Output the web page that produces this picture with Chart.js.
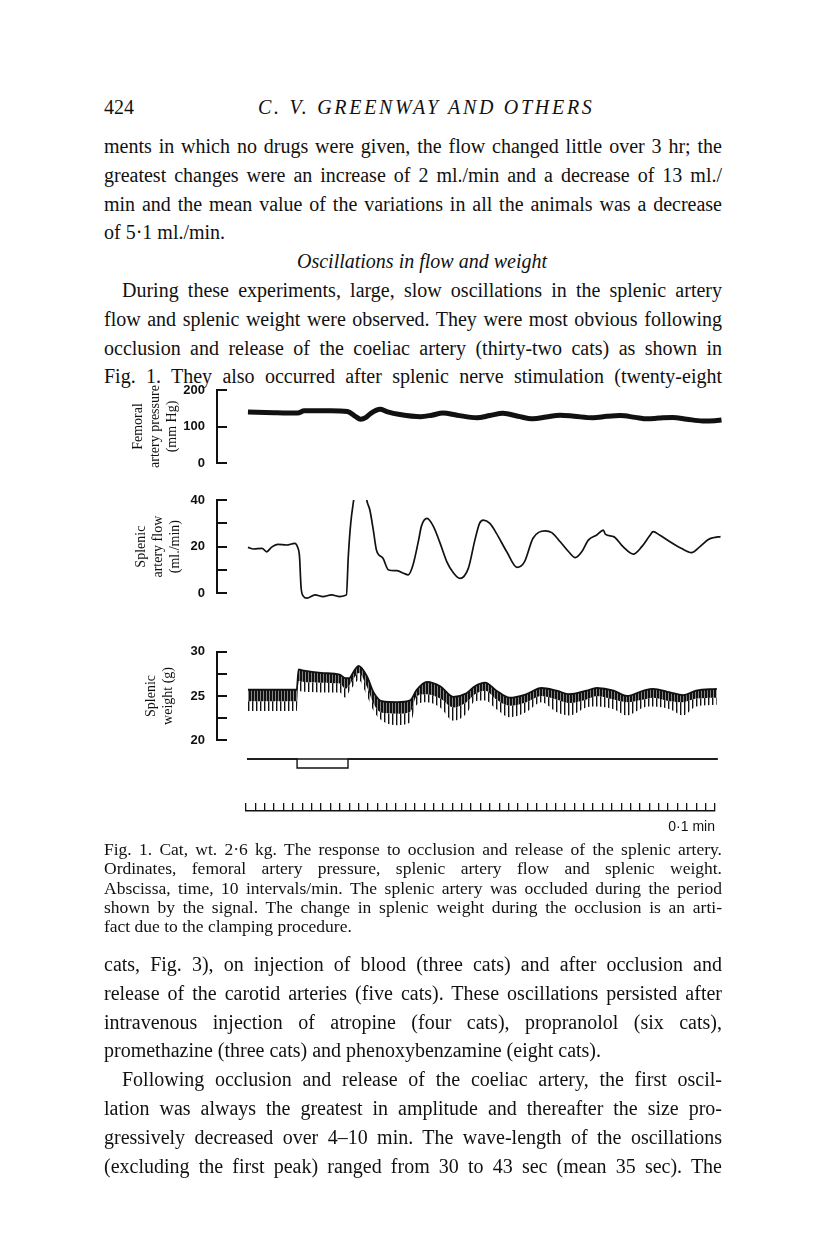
<!DOCTYPE html>
<html>
<head>
<meta charset="utf-8">
<script src="https://cdn.jsdelivr.net/npm/chart.js@4.4.1/dist/chart.umd.min.js"></script>
<style>
  html, body { margin: 0; padding: 0; background: #fff; }
  #page { position: relative; width: 816px; height: 1249px; overflow: hidden;
          font-family: 'Liberation Serif', serif; color: #111; }
  .ln { position: absolute; left: 104px; width: 618px; font-size: 20px; line-height: 28px; height: 28px;
        text-align: justify; text-align-last: justify; }
  .ind { left: 122px; width: 600px; }
  .end { text-align-last: left; }
  .cap { font-size: 17.5px; line-height: 19px; height: 19px; }
  canvas { position: absolute; }
</style>
</head>
<body>
<div id="page">
  <div class="ln end" style="top:93px">424</div>
  <div class="ln end" style="top:93px;left:258px;width:400px;font-style:italic;letter-spacing:2.7px">C. V. GREENWAY AND OTHERS</div>

  <div class="ln" style="top:132px">ments in which no drugs were given, the flow changed little over 3 hr; the</div>
  <div class="ln" style="top:160.8px">greatest changes were an increase of 2 ml./min and a decrease of 13 ml./</div>
  <div class="ln" style="top:189.6px">min and the mean value of the variations in all the animals was a decrease</div>
  <div class="ln end" style="top:218.4px">of 5·1 ml./min.</div>
  <div class="ln" style="top:247.2px;text-align:center;text-align-last:center;font-style:italic;padding-left:18px;width:600px">Oscillations in flow and weight</div>
  <div class="ln ind" style="top:276px">During these experiments, large, slow oscillations in the splenic artery</div>
  <div class="ln" style="top:304.8px">flow and splenic weight were observed. They were most obvious following</div>
  <div class="ln" style="top:333.6px">occlusion and release of the coeliac artery (thirty-two cats) as shown in</div>
  <div class="ln" style="top:362.4px">Fig. 1. They also occurred after splenic nerve stimulation (twenty-eight</div>

  <canvas id="pressureChart" width="620" height="170" style="left:120px;top:330px"></canvas>
  <canvas id="flowChart" width="620" height="180" style="left:120px;top:460px"></canvas>
  <canvas id="weightChart" width="620" height="160" style="left:120px;top:610px"></canvas>
  <canvas id="signalChart" width="620" height="35" style="left:120px;top:744px"></canvas>
  <canvas id="timeChart" width="620" height="60" style="left:120px;top:780px"></canvas>

  <div class="ln cap" style="top:840px">Fig. 1. Cat, wt. 2·6 kg. The response to occlusion and release of the splenic artery.</div>
  <div class="ln cap" style="top:859.3px">Ordinates, femoral artery pressure, splenic artery flow and splenic weight.</div>
  <div class="ln cap" style="top:878.6px">Abscissa, time, 10 intervals/min. The splenic artery was occluded during the period</div>
  <div class="ln cap" style="top:897.9px">shown by the signal. The change in splenic weight during the occlusion is an arti-</div>
  <div class="ln cap end" style="top:917.2px">fact due to the clamping procedure.</div>

  <div class="ln" style="top:950px">cats, Fig. 3), on injection of blood (three cats) and after occlusion and</div>
  <div class="ln" style="top:978.8px">release of the carotid arteries (five cats). These oscillations persisted after</div>
  <div class="ln" style="top:1007.6px">intravenous injection of atropine (four cats), propranolol (six cats),</div>
  <div class="ln end" style="top:1036.4px">promethazine (three cats) and phenoxybenzamine (eight cats).</div>
  <div class="ln ind" style="top:1065.2px">Following occlusion and release of the coeliac artery, the first oscil-</div>
  <div class="ln" style="top:1094px">lation was always the greatest in amplitude and thereafter the size pro-</div>
  <div class="ln" style="top:1122.8px">gressively decreased over 4–10 min. The wave-length of the oscillations</div>
  <div class="ln" style="top:1151.6px">(excluding the first peak) ranged from 30 to 43 sec (mean 35 sec). The</div>
</div>

<script>
// time axis: minutes from the first time mark
const pressureMin = [0.02, 0.3, 0.55, 0.62, 0.9, 1.08, 1.17, 1.22, 1.28, 1.33, 1.43, 1.5, 1.64, 1.86, 1.98, 2.1,
  2.25, 2.46, 2.6, 2.74, 2.9, 3.06, 3.2, 3.35, 3.5, 3.7, 3.85, 3.99, 4.15, 4.28, 4.4, 4.55, 4.7, 4.87, 5.0, 5.07];
const pressureMmHg = [140, 138, 137, 143, 143, 141, 127, 120, 125, 136, 147, 141, 133, 127, 131, 137,
  131, 124, 130, 136, 128, 121, 126, 131, 128, 124, 128, 130, 125, 121, 123, 125, 120, 115, 116, 118];

const flowMin = [0.02, 0.08, 0.17, 0.22, 0.27, 0.34, 0.43, 0.52, 0.55, 0.57,
  0.586, 0.61, 0.65, 0.735, 0.82, 0.91, 1.0, 1.07, 1.09, 1.116,
  1.15, 1.22, 1.287, 1.32, 1.357, 1.39, 1.46, 1.52, 1.61, 1.68,
  1.73, 1.78, 1.84, 1.87, 1.93, 2.0, 2.07, 2.14, 2.21, 2.28,
  2.37, 2.44, 2.49, 2.53, 2.6, 2.67, 2.78, 2.89, 2.97, 3.06,
  3.19, 3.26, 3.35, 3.44, 3.51, 3.58, 3.65, 3.74, 3.81, 3.83,
  3.92, 4.02, 4.13, 4.22, 4.31, 4.34, 4.41, 4.52, 4.64, 4.75,
  4.84, 4.93, 4.98, 5.06];
const flowMlMin = [19.7, 19.0, 19.3, 17.8, 19.7, 21.0, 20.7, 21.4, 19.7, 15.7,
  2.8, -1.2, -2.1, -0.7, -1.4, -0.7, -1.4, -0.7, 15.7, 30,
  40.7, 60, 40, 35.7, 27.1, 18.6, 15, 10, 9.7, 8.6,
  7.9, 12.1, 22.8, 28.8, 32.1, 28.5, 21.4, 13.6, 8.8, 6.4,
  10.7, 22.8, 30, 31.4, 30, 25.7, 17.8, 11.1, 13.6, 23.6,
  26.8, 26, 22.1, 17.8, 15.3, 17.8, 22.8, 25, 27.1, 25.4,
  24.3, 20, 16.8, 20, 25, 26.4, 25, 22.1, 19.3, 17.4,
  20, 23.1, 23.8, 24.3];

const weightMin = [0.02, 0.54, 0.56, 0.6, 0.8, 1.0, 1.06, 1.1, 1.15, 1.2, 1.29, 1.36, 1.45, 1.61, 1.75, 1.82,
  1.93, 2.07, 2.21, 2.35, 2.44, 2.55, 2.67, 2.81, 2.99, 3.15, 3.31, 3.45, 3.63, 3.74, 3.92, 4.06,
  4.24, 4.34, 4.52, 4.66, 4.8, 5.02];
const weightTop = [25.7, 25.7, 28.0, 27.9, 27.6, 27.4, 27.0, 27.0, 27.8, 28.4, 27.2, 25.4, 24.4, 24.3, 24.5, 25.7,
  26.6, 26.1, 24.9, 25.3, 26.1, 26.5, 25.6, 24.8, 25.2, 25.9, 25.6, 25.2, 25.6, 25.9, 25.6, 25.0,
  25.6, 25.8, 25.4, 25.1, 25.6, 25.8];
const weightCore = [24.4, 24.4, 26.7, 26.6, 26.5, 26.4, 25.8, 26.2, 27.0, 27.6, 26.0, 24.1, 23.1, 23.0, 23.2, 25.0,
  25.2, 24.7, 23.7, 24.3, 25.2, 25.6, 24.6, 23.9, 24.3, 25.0, 24.6, 24.2, 24.6, 25.0, 24.6, 24.3,
  24.6, 24.8, 24.4, 24.3, 24.7, 24.8];
const weightTips = [23.3, 23.3, 25.6, 25.5, 25.4, 25.4, 24.8, 25.5, 26.2, 26.8, 25.0, 23.3, 22.2, 21.7, 22.0, 24.0,
  24.3, 23.7, 22.2, 23.0, 24.4, 24.5, 23.5, 22.6, 23.2, 24.3, 23.2, 22.8, 23.7, 23.8, 23.5, 22.8,
  23.7, 23.8, 23.5, 22.8, 23.8, 24.0];

// occlusion signal: 1 = open, 0 = occluded
const signalMin = [0.01, 0.544, 1.087, 5.03];
const signalLevel = [1, 0, 1, 1];

const pressureLabels = [0, 100, 200];
const flowLabels = [0, 20, 40];
const weightLabels = [20, 25, 30];

const INK = '#111';
const pts = (xs, ys) => xs.map((x, i) => ({ x: x, y: ys[i] }));

function panelOptions(yMin, yMax, step, labels, title, titlePad, padTop, padBottom) {
  return {
    responsive: false,
    animation: false,
    events: [],
    layout: { padding: { left: 0, right: 11, top: padTop, bottom: padBottom } },
    plugins: { legend: { display: false }, tooltip: { enabled: false } },
    scales: {
      x: { type: 'linear', display: false, min: -0.31, max: 5.15 },
      y: {
        min: yMin,
        max: yMax,
        afterFit: s => { s.width = 97; },
        border: { display: true, color: INK, width: 2 },
        grid: { drawOnChartArea: false, drawTicks: true, tickLength: -10, color: INK, lineWidth: 2 },
        ticks: {
          stepSize: step,
          padding: 22,
          color: INK,
          font: { family: 'Liberation Sans', size: 13, weight: 'bold' },
          callback: v => labels.includes(v) ? String(v) : ''
        },
        title: {
          display: true,
          text: title,
          color: INK,
          font: { family: 'Liberation Serif', size: 14, lineHeight: 1.2 },
          padding: { top: titlePad, bottom: 0 }
        }
      }
    }
  };
}

// stripe fills for the pulse spikes of the weight record
function stripes(period, ink) {
  const c = document.createElement('canvas');
  c.width = period;
  c.height = 2;
  const g = c.getContext('2d');
  g.fillStyle = INK;
  g.fillRect(0, 0, ink, 2);
  return g.createPattern(c, 'repeat');
}
const coreFill = stripes(3, 2.5);
const spikeFill = stripes(4, 1.4);

new Chart(document.getElementById('pressureChart'), {
  type: 'line',
  data: {
    datasets: [{
      data: pts(pressureMin, pressureMmHg),
      borderColor: INK,
      borderWidth: 5,
      pointRadius: 0,
      cubicInterpolationMode: 'monotone',
      clip: 6
    }]
  },
  options: panelOptions(0, 200, 50, pressureLabels, ['Femoral', 'artery pressure', '(mm Hg)'], 10, 60, 37)
});

new Chart(document.getElementById('flowChart'), {
  type: 'line',
  data: {
    datasets: [{
      data: pts(flowMin, flowMlMin),
      borderColor: INK,
      borderWidth: 1.7,
      pointRadius: 0,
      cubicInterpolationMode: 'monotone',
      clip: { left: 5, top: 0, right: 5, bottom: 10 }
    }]
  },
  options: panelOptions(0, 40, 10, flowLabels, ['Splenic', 'artery flow', '(ml./min)'], 13, 40, 46.7)
});

new Chart(document.getElementById('weightChart'), {
  type: 'line',
  data: {
    datasets: [
      { data: pts(weightMin, weightTop), borderColor: INK, borderWidth: 1.8, pointRadius: 0,
        cubicInterpolationMode: 'monotone', fill: false, clip: 6 },
      { data: pts(weightMin, weightCore), borderWidth: 0, pointRadius: 0, backgroundColor: coreFill,
        cubicInterpolationMode: 'monotone', fill: '-1', clip: 6 },
      { data: pts(weightMin, weightTips), borderWidth: 0, pointRadius: 0, backgroundColor: spikeFill,
        cubicInterpolationMode: 'monotone', fill: '-1', clip: 6 }
    ]
  },
  options: panelOptions(20, 30, 2.5, weightLabels, ['Splenic', 'weight (g)'], 23, 41.7, 28.3)
});

new Chart(document.getElementById('signalChart'), {
  type: 'line',
  data: {
    datasets: [
      { data: pts([signalMin[0], signalMin[signalMin.length - 1]], [1, 1]), borderColor: INK, borderWidth: 1.4,
        pointRadius: 0, clip: 4 },
      { data: pts(signalMin, signalLevel), borderColor: INK, borderWidth: 1.4, pointRadius: 0, stepped: true, clip: 4 }
    ]
  },
  options: {
    responsive: false,
    animation: false,
    events: [],
    layout: { padding: { left: 97, right: 11, top: 15, bottom: 11 } },
    plugins: { legend: { display: false }, tooltip: { enabled: false } },
    scales: {
      x: { type: 'linear', display: false, min: -0.31, max: 5.15 },
      y: { display: false, min: 0, max: 1 }
    }
  }
});

new Chart(document.getElementById('timeChart'), {
  type: 'line',
  data: { datasets: [] },
  options: {
    responsive: false,
    animation: false,
    events: [],
    layout: { padding: { left: 126, right: 25, top: 23, bottom: 4.6 } },
    plugins: {
      legend: { display: false },
      tooltip: { enabled: false },
      title: {
        display: true,
        position: 'bottom',
        align: 'end',
        text: '0·1 min',
        color: INK,
        font: { family: 'Liberation Sans', size: 14, weight: 'normal', lineHeight: 1.2 },
        padding: 0
      }
    },
    scales: {
      x: {
        type: 'linear',
        position: 'top',
        min: 0,
        max: 5,
        border: { display: true, color: INK, width: 1.5 },
        grid: { drawOnChartArea: false, drawTicks: true, tickLength: 8, color: INK, lineWidth: 1.3 },
        ticks: { stepSize: 0.1, display: false, autoSkip: false }
      },
      y: { display: false, min: 0, max: 1 }
    }
  }
});
</script>
</body>
</html>
